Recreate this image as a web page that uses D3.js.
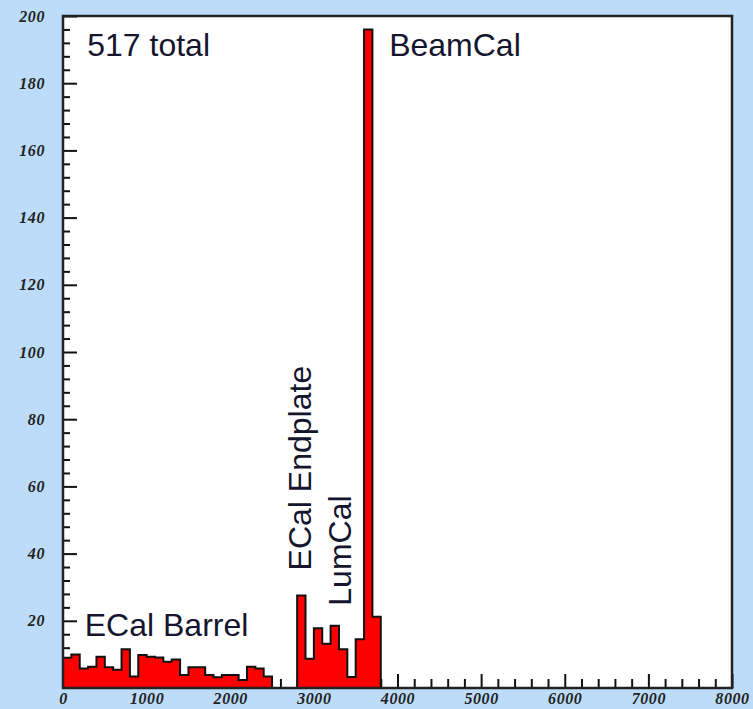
<!DOCTYPE html>
<html lang="en">
<head>
    <meta charset="UTF-8">
    <title>Hits per detector</title>
    <script src="https://cdn.jsdelivr.net/npm/d3@7"></script>
    <style>
        body { margin: 0; background: #bcdcf9; }
        .tick text { font-family: "Liberation Serif", "DejaVu Serif", serif; font-style: italic; font-weight: bold; font-size: 16px; letter-spacing: 0.6px; fill: #222; }
        .lbl { font-family: "Liberation Sans", Arial, sans-serif; font-size: 32px; fill: #15152e; }
    </style>
</head>
<body>
    <div id="root"></div>
    <script>
        // histogram, 100 wide bins starting at 0
        const binWidth = 100;
        const counts = [
            9, 10, 5.8, 6.3, 9.3, 6.2, 5.4, 11.5, 3.4, 9.8,
            9.3, 9.1, 7.8, 8.5, 3.9, 6.2, 6.2, 3.9, 3.2, 3.9,
            3.9, 2.4, 6.3, 5.8, 3.4, 0, 0, 0, 27.5, 8.7,
            17.8, 13.2, 18.5, 11.5, 3.3, 14.5, 196, 21.2
        ];
        const xMajor = [0, 1000, 2000, 3000, 4000, 5000, 6000, 7000, 8000];
        const yMajor = [20, 40, 60, 80, 100, 120, 140, 160, 180, 200];
        const labels = [
            {text: '517 total', x: 290, y: 188, rot: false},
            {text: 'BeamCal', x: 3900, y: 188, rot: false},
            {text: 'ECal Barrel', x: 260, y: 15.4, rot: false},
            {text: 'ECal Endplate', x: 2970, y: 35, rot: true},
            {text: 'LumCal', x: 3445, y: 24.5, rot: true}
        ];

        const width = 753, height = 709;
        const mLeft = 63, mRight = 732, mTop = 16, mBottom = 688;

        const x = d3.scaleLinear().domain([0, 8000]).range([mLeft, mRight]);
        const y = d3.scaleLinear().domain([0, 200]).range([mBottom, mTop]);

        const svg = d3.select('#root').append('svg')
            .attr('width', width)
            .attr('height', height);

        svg.append('rect').attr('width', width).attr('height', height).attr('fill', '#bcdcf9');
        svg.append('rect')
            .attr('x', mLeft).attr('y', mTop)
            .attr('width', mRight - mLeft).attr('height', mBottom - mTop)
            .attr('fill', 'white');

        // minor ticks first
        const yMinor = d3.range(0, 201, 4).filter(v => v % 20 !== 0);
        const xMinor = d3.range(0, 8001, 200).filter(v => v % 1000 !== 0);

        const styleAxis = g => {
            g.select('.domain').remove();
            g.selectAll('.tick line').attr('stroke', '#111').attr('stroke-width', 2);
        };

        svg.append('g').attr('transform', `translate(${mLeft},0)`)
            .call(d3.axisLeft(y).tickValues(yMinor).tickSize(-7).tickFormat(''))
            .call(styleAxis);
        svg.append('g').attr('transform', `translate(${mLeft},0)`)
            .call(d3.axisLeft(y).tickValues(yMajor).tickSize(-14).tickPadding(18).tickFormat(d3.format('d')))
            .call(styleAxis);
        svg.append('g').attr('transform', `translate(0,${mBottom})`)
            .call(d3.axisBottom(x).tickValues(xMinor).tickSize(-9).tickFormat(''))
            .call(styleAxis);
        svg.append('g').attr('transform', `translate(0,${mBottom})`)
            .call(d3.axisBottom(x).tickValues(xMajor).tickSize(-14).tickPadding(5).tickFormat(d3.format('d')))
            .call(styleAxis);

        // histogram as steps
        const pts = counts.map((c, i) => [i * binWidth, c]);
        pts.push([counts.length * binWidth, counts[counts.length - 1]]);

        const area = d3.area()
            .x(d => x(d[0])).y0(y(0)).y1(d => y(d[1]))
            .curve(d3.curveStepAfter);
        svg.append('path').datum(pts)
            .attr('d', area)
            .attr('fill', '#ff0000');

        const outline = [[0, 0]].concat(pts, [[counts.length * binWidth, 0]]);
        const line = d3.line()
            .x(d => x(d[0])).y(d => y(d[1]))
            .curve(d3.curveStepAfter);
        svg.append('path').datum(outline)
            .attr('d', line)
            .attr('fill', 'none')
            .attr('stroke', '#111')
            .attr('stroke-width', 2);

        svg.append('line')
            .attr('x1', x(counts.length * binWidth)).attr('x2', x(8000))
            .attr('y1', y(0)).attr('y2', y(0))
            .attr('stroke', '#ff0000').attr('stroke-width', 2);

        // frame
        svg.append('rect')
            .attr('x', mLeft).attr('y', mTop)
            .attr('width', mRight - mLeft).attr('height', mBottom - mTop)
            .attr('fill', 'none')
            .attr('stroke', '#222')
            .attr('stroke-width', 2.5);

        svg.selectAll('.lbl').data(labels).enter()
            .append('text')
            .attr('class', 'lbl')
            .attr('transform', d => `translate(${x(d.x)},${y(d.y)})` + (d.rot ? ' rotate(-90)' : ''))
            .text(d => d.text);
    </script>
</body>
</html>
